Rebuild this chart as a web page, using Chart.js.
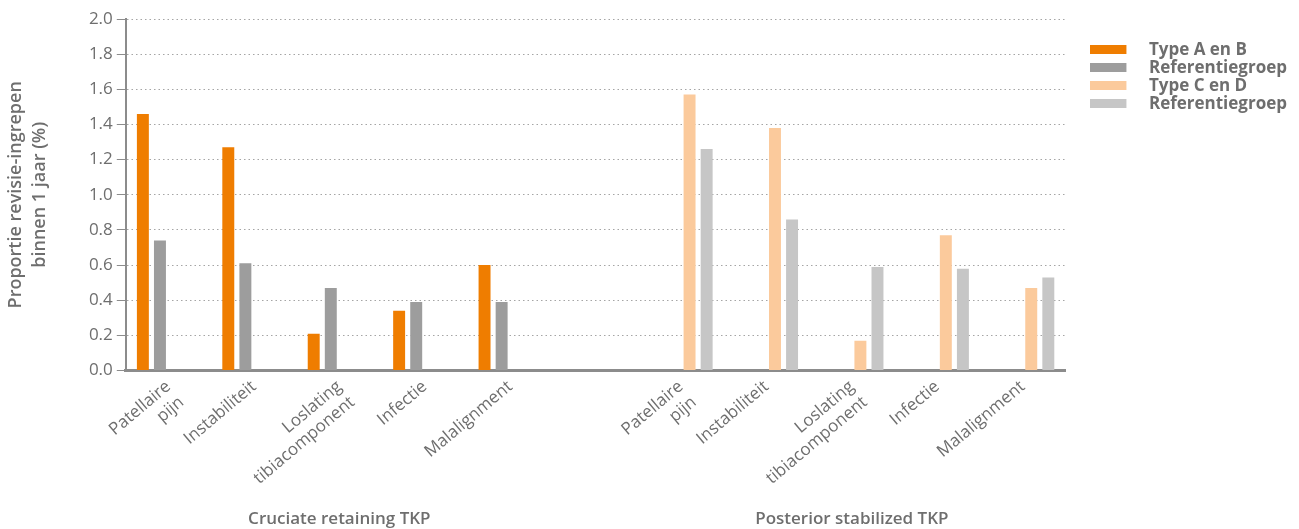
<!DOCTYPE html>
<html>
<head>
<meta charset="utf-8">
<script src="https://cdn.jsdelivr.net/npm/chart.js"></script>
<style>
  html, body { margin: 0; padding: 0; background: #fff; }
  #wrap { width: 1299px; height: 529px; }
</style>
</head>
<body>
<div id="wrap"><canvas id="revisieChart"></canvas></div>
<script>
// categories: 5 for cruciate retaining, one empty gap, 5 for posterior stabilized
const categories = [
  ["Patellaire", "pijn"], "Instabiliteit", ["Loslating", "tibiacomponent"], "Infectie", "Malalignment",
  "",
  ["Patellaire", "pijn"], "Instabiliteit", ["Loslating", "tibiacomponent"], "Infectie", "Malalignment"
];
const groupLabels = ["", "", "Cruciate retaining TKP", "", "", "", "", "", "Posterior stabilized TKP", "", ""];

const typeAenB = [1.46, 1.27, 0.21, 0.34, 0.60, null, null, null, null, null, null];
const refAenB  = [0.74, 0.61, 0.47, 0.39, 0.39, null, null, null, null, null, null];
const typeCenD = [null, null, null, null, null, null, 1.57, 1.38, 0.17, 0.77, 0.47];
const refCenD  = [null, null, null, null, null, null, 1.26, 0.86, 0.59, 0.58, 0.53];

const yMin = 0, yMax = 2.0, yStep = 0.2;

const colors = ["#EF7D00", "#9D9D9D", "#FBCA9C", "#C6C6C6"];
const textGray = "#6e6e6e";
const fam = "'Open Sans', sans-serif";

// wide legend swatch: 36x9 box with empty space after it
function swatch(color) {
  const c = document.createElement("canvas");
  c.width = 50;
  c.height = 9;
  const g = c.getContext("2d");
  g.fillStyle = color;
  g.fillRect(0, 0, 36, 9);
  return c;
}
const swatches = colors.map(swatch);

const ctx = document.getElementById("revisieChart");

new Chart(ctx.getContext("2d"), {
  type: "bar",
  data: {
    labels: categories,
    datasets: [
      { label: "Type A en B", data: typeAenB, backgroundColor: colors[0] },
      { label: "Referentiegroep", data: refAenB, backgroundColor: colors[1] },
      { label: "Type C en D", data: typeCenD, backgroundColor: colors[2] },
      { label: "Referentiegroep", data: refCenD, backgroundColor: colors[3] }
    ]
  },
  options: {
    responsive: true,
    maintainAspectRatio: false,
    animation: false,
    datasets: {
      bar: { barPercentage: 0.7, categoryPercentage: 0.8 }
    },
    layout: { padding: { top: 19, right: 2, bottom: 0, left: 4 } },
    plugins: {
      tooltip: { enabled: false },
      legend: {
        position: "right",
        align: "start",
        title: { display: true, text: "", padding: 3.5 },
        labels: {
          usePointStyle: true,
          pointStyleWidth: 50,
          padding: 1,
          color: textGray,
          font: { family: fam, size: 17, weight: "bold" },
          generateLabels: (chart) =>
            Chart.defaults.plugins.legend.labels.generateLabels(chart)
              .map((item, i) => ({ ...item, pointStyle: swatches[i] }))
        }
      }
    },
    scales: {
      x: {
        grid: { display: false, drawTicks: false },
        border: { color: "#8c8c8c", width: 3 },
        ticks: {
          autoSkip: false,
          minRotation: 40,
          maxRotation: 40,
          padding: 6,
          color: textGray,
          font: { family: fam, size: 17 }
        },
        afterFit: (scale) => { scale.height = 138; }
      },
      x2: {
        position: "bottom",
        labels: groupLabels,
        grid: { display: false, drawTicks: false },
        border: { display: false },
        ticks: {
          autoSkip: false,
          maxRotation: 0,
          padding: 0,
          color: textGray,
          font: { family: fam, size: 17, weight: "600" }
        }
      },
      y: {
        min: yMin,
        max: yMax,
        ticks: {
          stepSize: yStep,
          callback: (v) => v.toFixed(1),
          color: textGray,
          padding: 4,
          font: { family: fam, size: 17 }
        },
        grid: { color: "#a5a5a5", lineWidth: 1, tickColor: "#8c8c8c", tickLength: 9 },
        border: { color: "#8c8c8c", width: 2, dash: [1.5, 3] },
        title: {
          display: true,
          text: ["Proportie revisie-ingrepen", "binnen 1 jaar (%)"],
          color: textGray,
          padding: { top: 0, bottom: 33 },
          font: { family: fam, size: 18, weight: "600", lineHeight: 1.33 }
        }
      },
      yPad: {
        position: "right",
        grid: { display: false },
        border: { display: false },
        ticks: { display: false },
        afterFit: (scale) => { scale.width = 24; }
      }
    }
  }
});
</script>
</body>
</html>
